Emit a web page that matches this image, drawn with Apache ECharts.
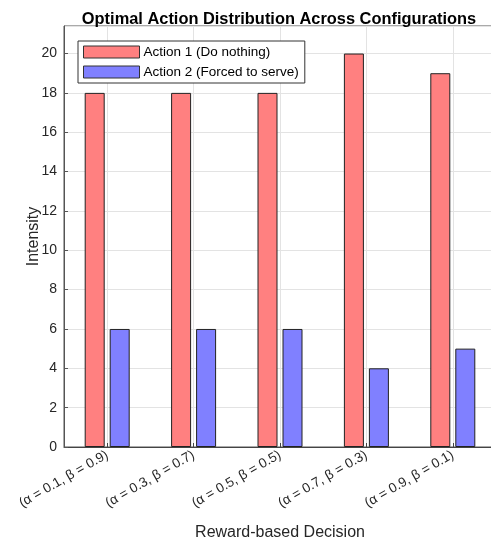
<!DOCTYPE html>
<html>
<head>
<meta charset="utf-8">
<script src="https://cdn.jsdelivr.net/npm/echarts@6/dist/echarts.min.js"></script>
<style>html,body{margin:0;padding:0;background:#fff;}#c{width:491px;height:541px;}</style>
</head>
<body>
<div id="c"></div>
<script>
const categories = ['(α = 0.1, β = 0.9)', '(α = 0.3, β = 0.7)', '(α = 0.5, β = 0.5)', '(α = 0.7, β = 0.3)', '(α = 0.9, β = 0.1)'];
const action1 = [18, 18, 18, 20, 19];
const action2 = [6, 6, 6, 4, 5];
const seriesNames = ['Action 1 (Do nothing)', 'Action 2 (Forced to serve)'];

const FONT = '"Liberation Sans", Arial, Helvetica, sans-serif';
const chart = echarts.init(document.getElementById('c'));
chart.setOption({
  animation: false,
  backgroundColor: '#fff',
  textStyle: { fontFamily: FONT },
  title: {
    text: 'Optimal Action Distribution Across Configurations',
    left: 274, top: 6, textAlign: 'center',
    textStyle: { fontFamily: FONT, fontWeight: 'bold', fontSize: 16.4, color: '#000' }
  },
  legend: {
    orient: 'vertical', left: 78, top: 41,
    padding: [4, 6, 4, 5],
    itemWidth: 56, itemHeight: 12, itemGap: 6,
    backgroundColor: '#fff', borderColor: '#333', borderWidth: 1,
    borderRadius: 0,
    icon: 'rect',
    itemStyle: { borderWidth: 1, borderColor: '#333' },
    textStyle: { fontFamily: FONT, fontSize: 13.5, color: '#000', padding: [0, 0, 0, -1] },
    data: seriesNames
  },
  grid: { left: 64, top: 26, bottom: 94, right: -5, show: true, borderColor: '#555', borderWidth: 1,
    containLabel: false, outerBoundsMode: 'none' },
  xAxis: {
    type: 'category', data: categories,
    name: 'Reward-based Decision', nameLocation: 'middle', nameGap: 78,
    nameTextStyle: { fontFamily: FONT, fontSize: 16, color: '#262626' },
    axisLine: { lineStyle: { color: '#444', width: 1 } },
    axisTick: { show: true, inside: true, alignWithLabel: true, length: 4, lineStyle: { color: '#444' } },
    axisLabel: { rotate: 30, fontFamily: FONT, fontSize: 13.5, color: '#262626', margin: 7 },
    splitLine: { show: true, alignWithLabel: true, lineStyle: { color: '#e3e3e3', width: 1 } }
  },
  yAxis: {
    type: 'value', min: 0, max: 21.4, interval: 2,
    name: 'Intensity', nameLocation: 'middle', nameGap: 22, nameRotate: 90, nameMoveOverlap: false,
    nameTextStyle: { fontFamily: FONT, fontSize: 16, color: '#262626' },
    axisLine: { show: true, lineStyle: { color: '#555', width: 1 } },
    axisTick: { show: true, inside: true, length: 4, lineStyle: { color: '#555' } },
    axisLabel: { fontFamily: FONT, fontSize: 14, color: '#262626', margin: 7, showMaxLabel: false,
      formatter: v => (Math.abs(v - Math.round(v)) < 1e-6 && Math.round(v) % 2 === 0) ? String(Math.round(v)) : '' },
    splitLine: { show: true, lineStyle: { color: '#e3e3e3', width: 1 } }
  },
  series: [
    { name: seriesNames[0], type: 'bar', data: action1, barWidth: 20, barGap: '25%',
      itemStyle: { color: '#FF8080', borderColor: '#222', borderWidth: 1 } },
    { name: seriesNames[1], type: 'bar', data: action2, barWidth: 20, barGap: '25%',
      itemStyle: { color: '#8080FF', borderColor: '#222', borderWidth: 1 } }
  ]
});
</script>
</body>
</html>
